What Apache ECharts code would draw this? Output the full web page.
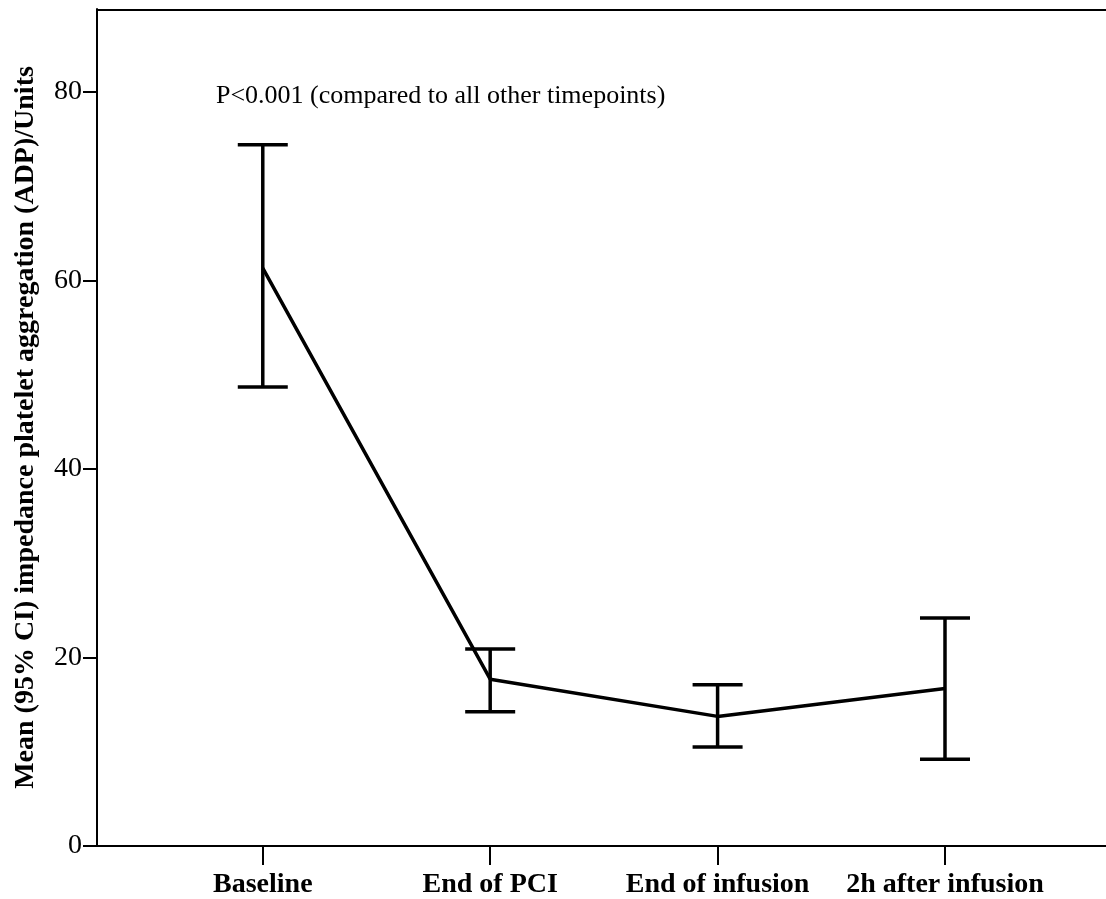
<!DOCTYPE html>
<html><head><meta charset="utf-8">
<script src="https://cdn.jsdelivr.net/npm/echarts@6/dist/echarts.min.js"></script>
<style>html,body{margin:0;padding:0;background:#fff}#c{width:1106px;height:899px}</style>
</head><body><div id="c"></div>
<script>
const categories = ['Baseline', 'End of PCI', 'End of infusion', '2h after infusion'];
const means = [61.3, 17.7, 13.75, 16.7];
const lower = [48.7, 14.25, 10.5, 9.2];
const upper = [74.4, 20.9, 17.1, 24.2];
const yTicks = [0, 20, 40, 60, 80];
const annotation = 'P<0.001 (compared to all other timepoints)';
const yTitle = 'Mean (95% CI) impedance platelet aggregation (ADP)/Units';

const font = '"Liberation Serif", "Times New Roman", serif';
const chart = echarts.init(document.getElementById('c'));
const lineData = means.map((m, i) => [i + 1, m]);
const errData = means.map((m, i) => [i + 1, lower[i], upper[i]]);

chart.setOption({
  animation: false,
  grid: { left: 97, right: 0, top: 9, bottom: 53, outerBoundsMode: 'none', containLabel: false },
  xAxis: {
    type: 'value', min: 0.271, max: 4.708, interval: 1,
    axisLine: { lineStyle: { color: '#000', width: 2 } },
    axisTick: { show: true, length: 19, lineStyle: { color: '#000', width: 2 }, customValues: [1, 2, 3, 4] },
    axisLabel: {
      customValues: [1, 2, 3, 4],
      formatter: v => categories[Math.round(v) - 1] || '',
      color: '#000', fontFamily: font, fontWeight: 'bold', fontSize: 28, margin: 25
    },
    splitLine: { show: false }
  },
  yAxis: {
    type: 'value', min: 0, max: 88.8, interval: 20,
    name: yTitle, nameLocation: 'middle', nameGap: 57,
    nameTextStyle: { color: '#000', fontFamily: font, fontWeight: 'bold', fontSize: 28 },
    axisLine: { show: true, lineStyle: { color: '#000', width: 2 } },
    axisTick: { show: true, length: 14, lineStyle: { color: '#000', width: 2 }, customValues: yTicks },
    axisLabel: { customValues: yTicks, color: '#000', fontFamily: font, fontSize: 28, margin: 15 },
    splitLine: { show: false }
  },
  graphic: [
    { type: 'line', shape: { x1: 97, y1: 10, x2: 1106, y2: 10 }, style: { stroke: '#000', lineWidth: 2 } },
    { type: 'text', left: 216, top: 83, style: { text: annotation, font: '26px ' + font, fill: '#000' } }
  ],
  series: [
    {
      type: 'line', data: lineData, symbol: 'none',
      lineStyle: { color: '#000', width: 3.5 }, z: 3
    },
    {
      type: 'custom', data: errData, z: 2,
      renderItem: (params, api) => {
        const x = api.value(0);
        const lo = api.coord([x, api.value(1)]);
        const hi = api.coord([x, api.value(2)]);
        const hw = 25;
        const st = { stroke: '#000', lineWidth: 3.5 };
        return {
          type: 'group', children: [
            { type: 'line', shape: { x1: lo[0], y1: lo[1], x2: hi[0], y2: hi[1] }, style: st },
            { type: 'line', shape: { x1: lo[0] - hw, y1: lo[1], x2: lo[0] + hw, y2: lo[1] }, style: st },
            { type: 'line', shape: { x1: hi[0] - hw, y1: hi[1], x2: hi[0] + hw, y2: hi[1] }, style: st }
          ]
        };
      }
    }
  ]
});
</script></body></html>
